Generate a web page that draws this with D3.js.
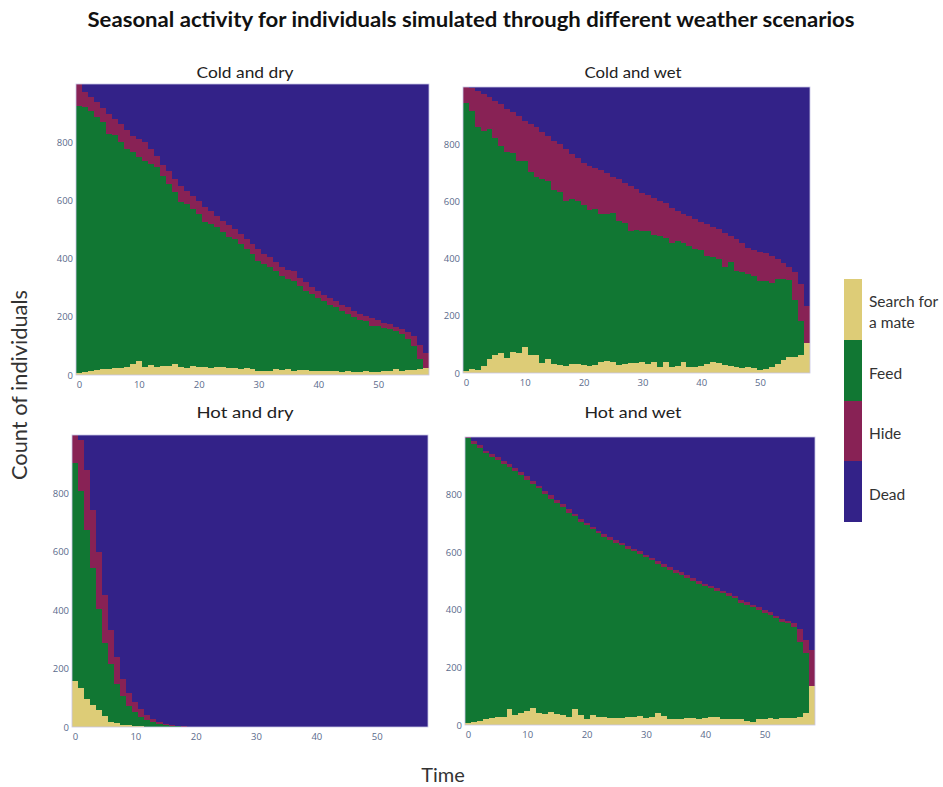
<!DOCTYPE html>
<html>
<head>
<meta charset="utf-8">
<script src="https://cdn.jsdelivr.net/npm/d3@7"></script>
<style>
  body { margin: 0; background: #fff; }
  .tick text { font-family: "Open Sans", sans-serif; font-size: 9.5px; fill: #5b6b8c; }
</style>
</head>
<body>
<div id="chart"></div>
<script>
// setup chart dimensions
var svgWidth = 943;
var svgHeight = 787;

// stack order, bottom to top
var keys = ["mate", "feed", "hide", "dead"];
var keyLabels = {
  mate: ["Search for", "a mate"],
  feed: ["Feed"],
  hide: ["Hide"],
  dead: ["Dead"]
};
var colors = {
  mate: "#ddcc77",
  feed: "#117733",
  hide: "#882255",
  dead: "#332288"
};

// time steps 0..58
var time = d3.range(59);
var xTicks = [0, 10, 20, 30, 40, 50];
var yTicks = [0, 200, 400, 600, 800];

// Cold and dry
var coldDryMate = [6,9,13,17,21,22,23,25,29,38,49,26,34,29,31,31,38,26,25,32,29,26,24,26,26,23,24,19,23,21,13,15,15,19,17,22,13,17,16,15,13,15,14,13,11,13,11,11,13,10,11,13,15,21,13,17,17,22,24];
var coldDryFeed = [917,911,894,869,848,807,803,775,748,727,699,711,691,685,654,625,590,567,563,538,524,499,495,481,464,450,443,431,410,394,380,366,355,339,324,307,311,289,273,263,253,240,227,219,209,196,189,177,171,159,158,150,142,130,127,108,81,32,0];
var coldDryHide = [77,52,48,52,49,68,54,63,65,58,63,63,52,40,35,46,46,58,46,46,46,51,46,40,40,43,35,34,34,35,40,34,34,29,29,31,32,29,29,25,23,20,25,23,21,23,20,21,19,26,19,17,17,14,17,24,36,50,51];
var coldDryDead = [0,28,45,62,82,103,120,137,158,177,189,200,223,246,280,298,326,349,366,384,401,424,435,453,470,484,498,516,533,550,567,585,596,613,630,640,644,665,682,697,711,725,734,745,759,768,780,791,797,805,812,820,826,835,843,851,866,896,925];

// Cold and wet
var coldWetMate = [8,14,12,26,49,64,69,52,72,69,90,64,64,34,49,31,28,26,31,31,29,26,29,40,43,40,29,31,35,34,37,31,37,20,37,22,26,37,22,22,26,31,37,34,29,26,22,17,20,17,10,14,20,31,45,57,55,64,104];
var coldWetFeed = [936,901,847,821,804,758,726,720,697,671,650,638,622,644,623,609,604,574,578,572,557,544,545,516,513,518,501,492,463,467,461,467,447,460,435,431,434,416,423,412,405,379,370,365,340,361,336,335,326,323,311,307,294,298,284,268,200,119,0];
var coldWetHide = [56,80,128,128,111,130,145,151,142,160,142,168,173,163,157,172,168,183,156,150,150,154,144,154,145,129,148,143,156,142,133,123,129,122,121,125,107,102,104,103,97,110,105,103,122,92,109,104,92,90,102,97,95,68,57,47,97,127,129];
var coldWetDead = [0,5,13,25,36,48,60,77,89,100,118,130,141,159,171,188,200,217,235,247,264,276,282,290,299,313,322,334,346,357,369,379,387,398,407,422,433,445,451,463,472,480,488,498,509,521,533,544,562,570,577,582,591,603,614,628,648,690,767];

// Hot and dry
var hotDryMate = [158,135,95,74,57,36,18,13,8,6,
  4,2,1,1,0,0,0,0,0,0,
  0,0,0,0,0,0,0,0,0,0,
  0,0,0,0,0,0,0,0,0,0,
  0,0,0,0,0,0,0,0,0,0,
  0,0,0,0,0,0,0,0,0];
var hotDryFeed = [747,673,578,469,347,252,199,135,99,67,
  47,31,22,15,10,7,5,2,1,0,
  0,0,0,0,0,0,0,0,0,0,
  0,0,0,0,0,0,0,0,0,0,
  0,0,0,0,0,0,0,0,0,0,
  0,0,0,0,0,0,0,0,0];
var hotDryHide = [95,176,207,200,196,163,114,92,58,44,
  35,28,17,12,7,3,1,2,1,1,
  0,0,0,0,0,0,0,0,0,0,
  0,0,0,0,0,0,0,0,0,0,
  0,0,0,0,0,0,0,0,0,0,
  0,0,0,0,0,0,0,0,0];
var hotDryDead = [0,16,120,257,400,549,669,760,835,883,
  914,939,960,972,983,990,994,996,998,999,
  1000,1000,1000,1000,1000,1000,1000,1000,1000,1000,
  1000,1000,1000,1000,1000,1000,1000,1000,1000,1000,
  1000,1000,1000,1000,1000,1000,1000,1000,1000,1000,
  1000,1000,1000,1000,1000,1000,1000,1000,1000];

// Hot and wet
var hotWetMate = [6,12,15,20,25,29,29,56,35,41,49,58,41,38,46,37,35,29,56,35,21,35,29,27,25,23,23,27,29,31,23,29,41,31,20,20,21,23,23,22,23,27,29,21,21,20,21,15,12,21,21,23,21,23,25,25,29,43,136];
var hotWetFeed = [989,963,948,923,907,890,878,841,846,828,803,780,781,763,737,735,721,708,668,671,672,644,636,626,619,609,601,585,575,564,559,543,518,519,519,507,501,488,476,468,460,447,435,437,427,420,404,401,398,379,368,359,351,336,328,317,258,206,0];
var hotWetHide = [5,10,8,10,9,10,10,9,10,10,12,10,9,12,14,10,10,12,9,11,10,9,10,9,8,9,8,9,8,9,10,9,10,8,9,10,8,9,11,9,8,9,10,8,9,8,9,10,8,9,10,9,8,10,9,12,46,46,125];
var hotWetDead = [0,15,29,47,59,71,83,94,109,121,136,152,169,187,203,218,234,251,267,283,297,312,325,338,348,359,368,379,388,396,408,419,431,442,452,463,470,480,490,501,509,517,526,534,543,552,566,574,582,591,601,609,620,631,638,646,667,705,739];

// panels: titles, series and where each plot sits
var panels = [
  { title: "Cold and dry", series: [coldDryMate, coldDryFeed, coldDryHide, coldDryDead],
    left: 76, right: 429, top: 84, bottom: 375, titleX: 245, titleY: 78 },
  { title: "Cold and wet", series: [coldWetMate, coldWetFeed, coldWetHide, coldWetDead],
    left: 463, right: 810, top: 87, bottom: 373, titleX: 633, titleY: 78 },
  { title: "Hot and dry", series: [hotDryMate, hotDryFeed, hotDryHide, hotDryDead],
    left: 72, right: 428, top: 435, bottom: 727, titleX: 245, titleY: 418 },
  { title: "Hot and wet", series: [hotWetMate, hotWetFeed, hotWetHide, hotWetDead],
    left: 465, right: 815, top: 437, bottom: 725, titleX: 633, titleY: 418 }
];

var svg = d3.select("#chart")
  .append("svg")
  .attr("width", svgWidth)
  .attr("height", svgHeight);

svg.append("rect")
  .attr("width", svgWidth)
  .attr("height", svgHeight)
  .attr("fill", "#fff");

// main title
svg.append("text")
  .attr("x", 471)
  .attr("y", 27)
  .attr("text-anchor", "middle")
  .attr("textLength", 767)
  .attr("lengthAdjust", "spacingAndGlyphs")
  .style("font-family", "Lato, sans-serif")
  .style("font-weight", "bold")
  .style("font-size", "21px")
  .attr("fill", "#111")
  .text("Seasonal activity for individuals simulated through different weather scenarios");

var stack = d3.stack().keys(keys);

panels.forEach(function(p) {
  // build table for the stack
  var rows = time.map(function(t, i) {
    var row = { time: t };
    keys.forEach(function(k, j) { row[k] = p.series[j][i]; });
    return row;
  });

  var xScale = d3.scaleLinear()
    .domain([-0.5, 58.5])
    .range([p.left, p.right]);

  var yScale = d3.scaleLinear()
    .domain([0, 1000])
    .range([p.bottom, p.top]);

  var g = svg.append("g");

  var layers = g.selectAll(".layer")
    .data(stack(rows))
    .enter()
    .append("g")
    .attr("fill", d => colors[d.key]);

  layers.selectAll("rect")
    .data(d => d)
    .enter()
    .append("rect")
    .attr("x", d => xScale(d.data.time - 0.5))
    .attr("width", xScale(1) - xScale(0))
    .attr("y", d => yScale(d[1]))
    .attr("height", d => yScale(d[0]) - yScale(d[1]))
    .attr("shape-rendering", "crispEdges");

  // faint plot frame
  g.append("rect")
    .attr("x", p.left)
    .attr("y", p.top)
    .attr("width", p.right - p.left)
    .attr("height", p.bottom - p.top)
    .attr("fill", "none")
    .attr("stroke", "#c9c6e6")
    .attr("stroke-width", 0.8);

  var bottomAxis = d3.axisBottom(xScale).tickValues(xTicks).tickSize(0).tickPadding(6);
  var leftAxis = d3.axisLeft(yScale).tickValues(yTicks).tickSize(0).tickPadding(3);

  g.append("g")
    .attr("transform", `translate(0, ${p.bottom})`)
    .call(bottomAxis)
    .call(a => a.select(".domain").remove());

  g.append("g")
    .attr("transform", `translate(${p.left}, 0)`)
    .call(leftAxis)
    .call(a => a.select(".domain").remove());

  // subplot title
  g.append("text")
    .attr("x", p.titleX)
    .attr("y", p.titleY)
    .attr("text-anchor", "middle")
    .attr("textLength", 97)
    .attr("lengthAdjust", "spacingAndGlyphs")
    .style("font-family", "Lato, sans-serif")
    .style("font-size", "16px")
    .attr("fill", "#222")
    .text(p.title);
});

// axis titles
svg.append("text")
  .attr("transform", "translate(27, 385) rotate(-90)")
  .attr("text-anchor", "middle")
  .attr("textLength", 190)
  .attr("lengthAdjust", "spacingAndGlyphs")
  .style("font-family", "Lato, sans-serif")
  .style("font-size", "21px")
  .attr("fill", "#333")
  .text("Count of individuals");

svg.append("text")
  .attr("x", 443)
  .attr("y", 782)
  .attr("text-anchor", "middle")
  .style("font-family", "Lato, sans-serif")
  .style("font-size", "20px")
  .attr("fill", "#333")
  .text("Time");

// legend: colour blocks like a colour bar
var legendScale = d3.scaleBand()
  .domain(keys)
  .range([279, 522]);

var legend = svg.append("g");

legend.selectAll("rect")
  .data(keys)
  .enter()
  .append("rect")
  .attr("x", 844)
  .attr("y", d => legendScale(d))
  .attr("width", 18)
  .attr("height", legendScale.bandwidth())
  .attr("fill", d => colors[d])
  .attr("shape-rendering", "crispEdges");

legend.selectAll("text")
  .data(keys)
  .enter()
  .append("text")
  .attr("x", 869)
  .attr("y", d => legendScale(d) + legendScale.bandwidth() / 2 + 3 - (keyLabels[d].length - 1) * 10.5)
  .style("font-family", "Lato, sans-serif")
  .style("font-size", "15.5px")
  .attr("fill", "#333")
  .each(function(d) {
    var t = d3.select(this);
    keyLabels[d].forEach(function(line, i) {
      t.append("tspan")
        .attr("x", 869)
        .attr("dy", i === 0 ? "0.35em" : "21px")
        .text(line);
    });
  });
</script>
</body>
</html>
